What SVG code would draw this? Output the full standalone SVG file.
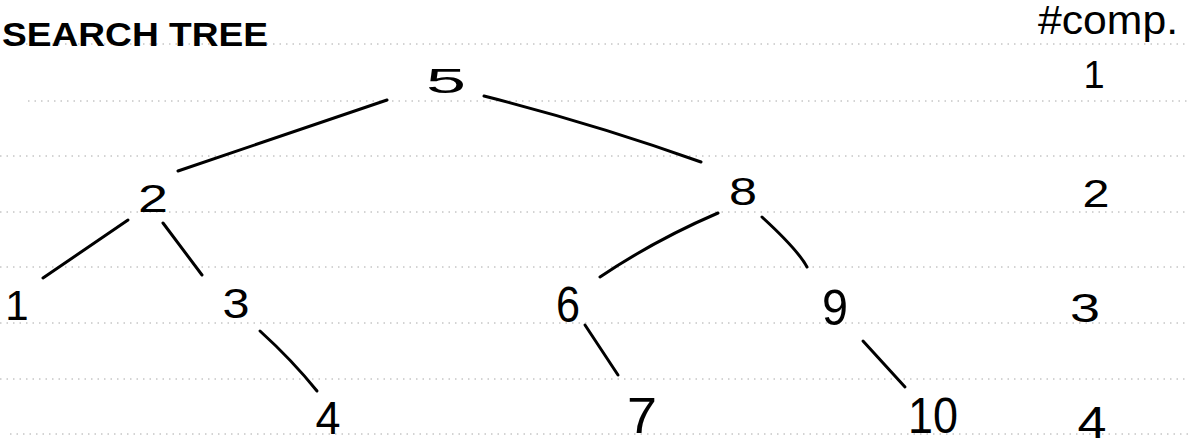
<svg xmlns="http://www.w3.org/2000/svg" width="1188" height="446" viewBox="0 0 1188 446">
<style>
.rule{stroke:#a8a8a8;stroke-width:1;stroke-dasharray:1.5 5;fill:none}
.edge{stroke:#000;stroke-width:3;stroke-linecap:round;fill:none}
.num{font-family:"Liberation Sans",Arial,sans-serif;fill:#000;text-anchor:middle}
.hand{font-family:"Liberation Sans",Arial,sans-serif;fill:#000}
</style>
<rect width="1188" height="446" fill="#fff"/>
<g id="rules">
<line class="rule" x1="13" y1="44" x2="1188" y2="44"/>
<line class="rule" x1="28" y1="101" x2="1188" y2="101"/>
<line class="rule" x1="0" y1="156" x2="1188" y2="156"/>
<line class="rule" x1="0" y1="212" x2="1188" y2="212"/>
<line class="rule" x1="0" y1="267" x2="1188" y2="267"/>
<line class="rule" x1="0" y1="323" x2="1188" y2="323"/>
<line class="rule" x1="0" y1="379" x2="1188" y2="379"/>
<line class="rule" x1="10" y1="434" x2="1188" y2="434"/>
</g>
<g id="headings">
<text class="hand" x="2" y="46" font-size="34" font-weight="bold" textLength="266" lengthAdjust="spacingAndGlyphs">SEARCH TREE</text>
<text class="hand" x="1038" y="34" font-size="40" textLength="140" lengthAdjust="spacingAndGlyphs">#comp.</text>
</g>
<g id="connectors">
<path class="edge" d="M387 100 L178 171"/>
<path class="edge" d="M484 96 Q595 124 701 162"/>
<path class="edge" d="M128 220 L43 278"/>
<path class="edge" d="M163 223 L202 275"/>
<path class="edge" d="M260 331 Q292 360 317 391"/>
<path class="edge" d="M718 213 Q655 240 600 277"/>
<path class="edge" d="M762 217 Q798 250 807 267"/>
<path class="edge" d="M585 325 L618 375"/>
<path class="edge" d="M863 341 L905 387"/>
</g>
<g id="node-5"><text class="num" x="446" y="93" font-size="35" textLength="40" lengthAdjust="spacingAndGlyphs">5</text></g>
<g id="node-2"><text class="num" x="153" y="212" font-size="38" textLength="30" lengthAdjust="spacingAndGlyphs">2</text></g>
<g id="node-8"><text class="num" x="743" y="205" font-size="39" textLength="28" lengthAdjust="spacingAndGlyphs">8</text></g>
<g id="node-1"><text class="num" x="17" y="320" font-size="42">1</text></g>
<g id="node-3"><text class="num" x="236" y="318" font-size="42" textLength="27" lengthAdjust="spacingAndGlyphs">3</text></g>
<g id="node-6"><text class="num" x="568" y="322" font-size="50" textLength="24" lengthAdjust="spacingAndGlyphs">6</text></g>
<g id="node-9"><text class="num" x="835" y="325" font-size="50" textLength="26" lengthAdjust="spacingAndGlyphs">9</text></g>
<g id="node-4"><text class="num" x="328" y="434" font-size="46" textLength="25" lengthAdjust="spacingAndGlyphs">4</text></g>
<g id="node-7"><text class="num" x="642" y="433" font-size="50" textLength="30" lengthAdjust="spacingAndGlyphs">7</text></g>
<g id="node-10"><text class="num" x="933" y="433" font-size="50" textLength="50" lengthAdjust="spacingAndGlyphs">10</text></g>
<g id="comp-1"><text class="num" x="1094" y="88" font-size="38">1</text></g>
<g id="comp-2"><text class="num" x="1096" y="207" font-size="38" textLength="27" lengthAdjust="spacingAndGlyphs">2</text></g>
<g id="comp-3"><text class="num" x="1085" y="322" font-size="41" textLength="30" lengthAdjust="spacingAndGlyphs">3</text></g>
<g id="comp-4"><text class="num" x="1092" y="438" font-size="44" textLength="29" lengthAdjust="spacingAndGlyphs">4</text></g>
</svg>
